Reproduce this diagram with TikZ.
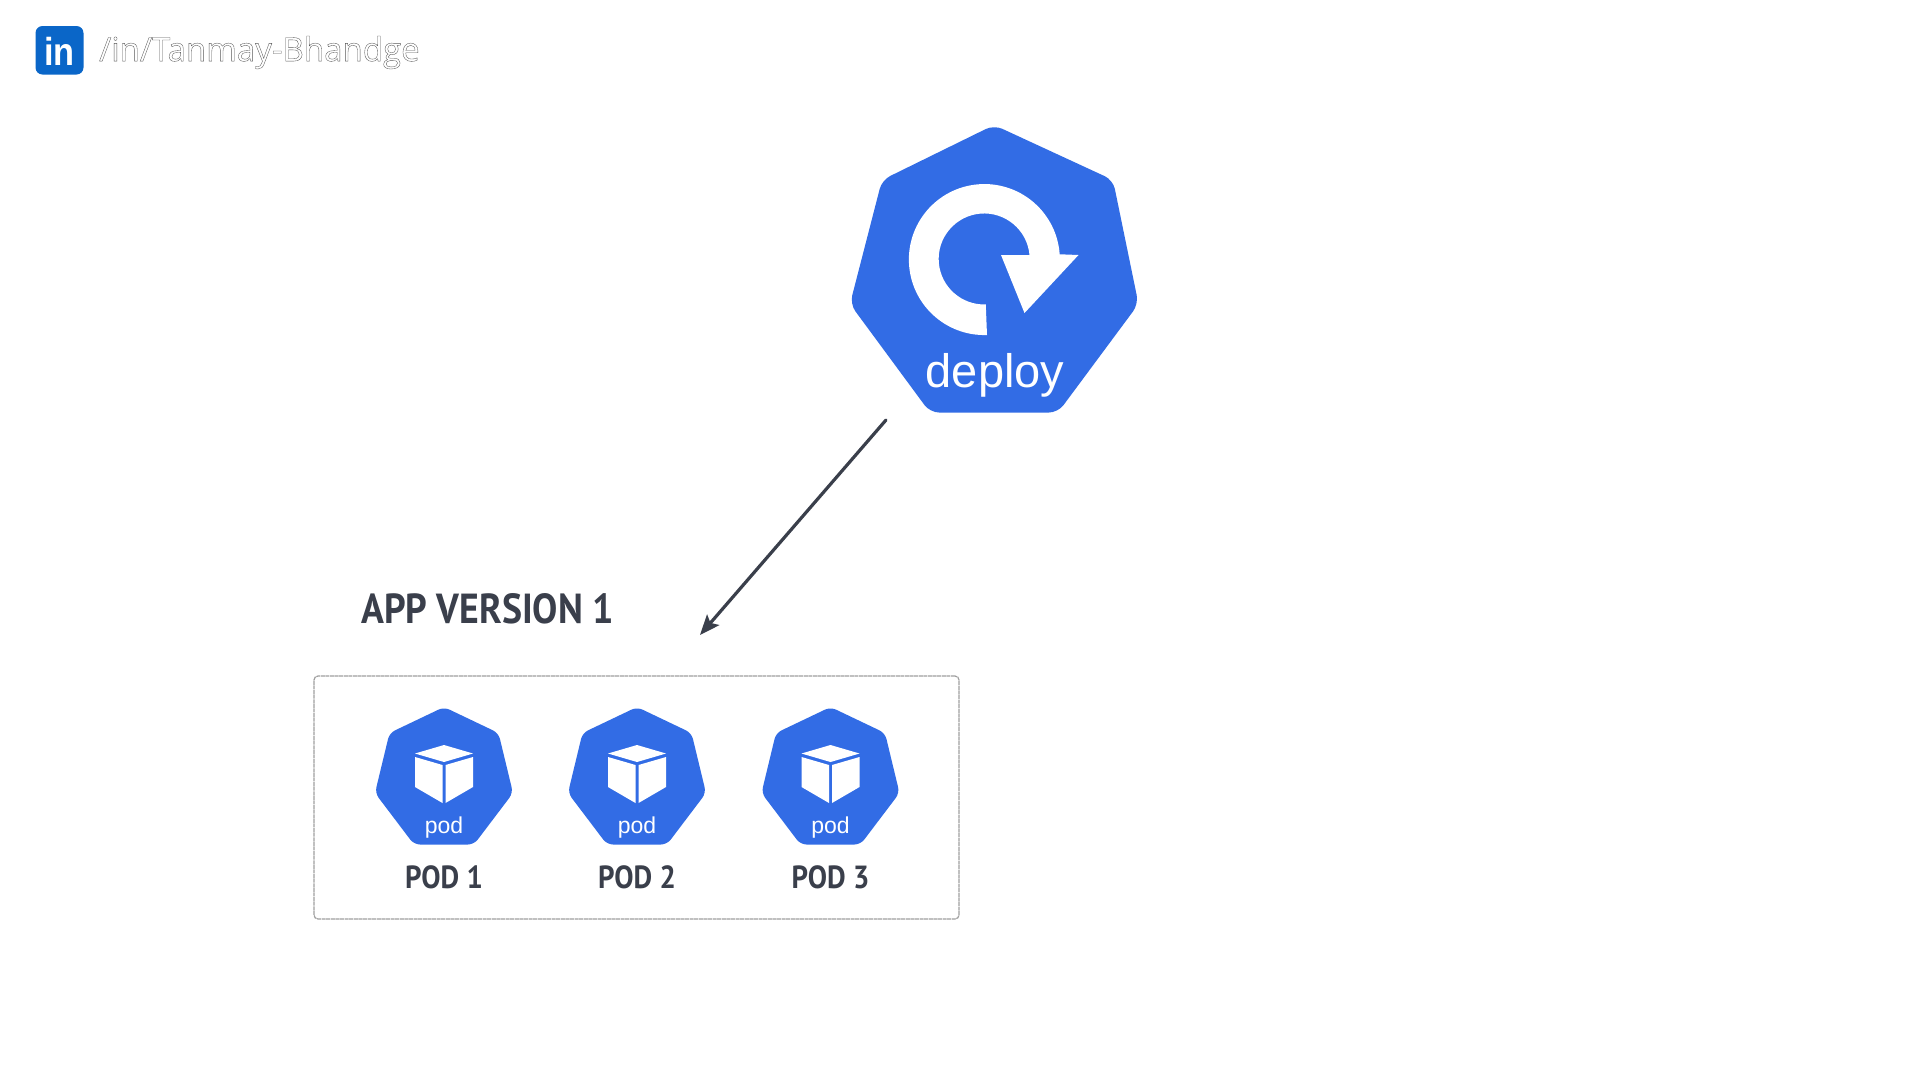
\documentclass[tikz,border=0pt]{standalone}
\usepackage{fontspec}
\setmainfont{Liberation Sans}
\newfontfamily\handfont[FakeStretch=0.9]{PT Sans}
\newfontfamily\linkfont{Open Sans}
\newfontfamily\lifont[FakeStretch=0.88]{Liberation Sans}
\definecolor{k8s}{HTML}{326CE5}
\definecolor{ink}{HTML}{3A3F4B}
\definecolor{lin}{HTML}{0A66C8}
\usetikzlibrary{arrows.meta}
\tikzset{x=1pt,y=1pt,
  hexfill/.style={fill=k8s,draw=none,rounded corners=#1},
  whitefill/.style={fill=white,draw=none},
  handlabel/.style={text=ink,font=\handfont\bfseries\fontsize{#1}{#1}\selectfont,inner sep=0pt},
  connector/.style={draw=ink,line width=3.2pt,line cap=round,-{Stealth[length=20pt,width=16pt,inset=4pt]}},
  podlabel/.style={text=white,font=\fontsize{23}{23}\selectfont,inner sep=0pt}
}
\newcommand{\podicon}[3]{% x, node name, label
  \begin{scope}[shift={(#1,0)}]
    \path[hexfill=6pt] (0,-707) -- (54.5,-733) -- (69,-793) -- (30,-844.5) -- (-30,-844.5) -- (-69,-793) -- (-54.5,-733) -- cycle;
    \path[whitefill] (0,-745) -- (29,-753.5) -- (0,-762) -- (-29,-753.5) -- cycle;
    \path[whitefill] (-29,-757) -- (-1.5,-765) -- (-1.5,-803) -- (-29,-787) -- cycle;
    \path[whitefill] (29,-757) -- (1.5,-765) -- (1.5,-803) -- (29,-787) -- cycle;
    \node[podlabel] (#2icon) at (0,-827.5) {pod};
    \node[handlabel=32] (#2) at (0,-877.5) {#3};
  \end{scope}
}
\begin{document}
\begin{tikzpicture}
\useasboundingbox (0,0) rectangle (1920,-1080);
\fill[white] (0,0) rectangle (1920,-1080);
% linkedin
\path[fill=lin,rounded corners=7pt] (35.5,-26) rectangle (83.5,-74.5);
\node[anchor=base,text=white,font=\lifont\bfseries\fontsize{39}{39}\selectfont,inner sep=0pt] (inlogo) at (59.5,-65) {in};
\node[anchor=west,inner sep=0pt,font=\linkfont\fontsize{33}{33}\selectfont] (handle) at (99,-52.5)
  {\special{pdf:code q 1 Tr 0.35 w 0.35 0.35 0.35 RG}/in/Tanmay-Bhandge\special{pdf:code Q}};
% deploy
\path[hexfill=9pt] (994,-125) -- (1113,-180) -- (1138.5,-304) -- (1058,-412.5) -- (930,-412.5) -- (850,-304) -- (882,-180) -- cycle;
\path[whitefill] (987,-335)
  arc[start angle=272,end angle=4,radius=75.5pt]
  -- (1078.5,-255) -- (1024.5,-313) -- (1001,-255) -- (1029.5,-255)
  arc[start angle=5,end angle=272,radius=45.5pt] -- cycle;
\node[text=white,font=\fontsize{47}{47}\selectfont,inner sep=0pt] (deploy) at (995,-375.5) {deploy};
\coordinate (arrowstart) at (886,-420);
\coordinate (arrowend) at (700,-635);
\draw[connector] (arrowstart) -- (arrowend);
\node[handlabel=42] (version) at (487.7,-608.5) {APP VERSION 1};
\node[draw=gray!75,line width=1.2pt,dash pattern=on 4pt off 0.6pt,rounded corners=4pt,minimum width=645pt,minimum height=243pt,inner sep=0pt] (group) at (636.5,-797.5) {};
\podicon{444}{podA}{POD 1}
\podicon{637}{podB}{POD 2}
\podicon{830.5}{podC}{POD 3}
\end{tikzpicture}
\end{document}
